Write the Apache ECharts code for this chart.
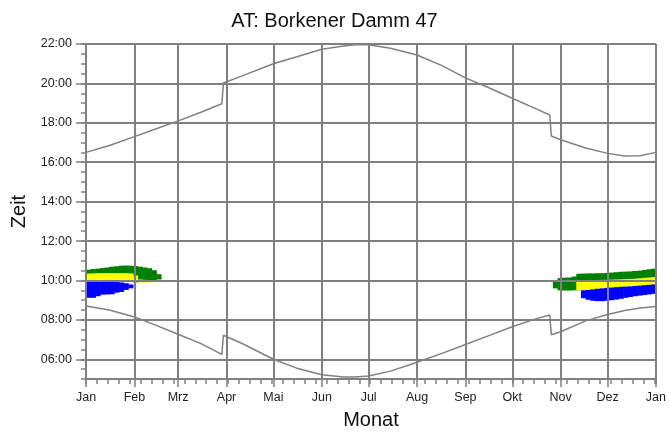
<!DOCTYPE html>
<html>
<head>
<meta charset="utf-8">
<script src="https://cdn.jsdelivr.net/npm/echarts@6/dist/echarts.min.js"></script>
<style>
  html, body { margin: 0; padding: 0; background: #fff; }
  #chart { width: 669px; height: 435px; }
</style>
</head>
<body>
<div id="chart"></div>
<script>
// x = day of year, y = hour of day
const monthStarts = [0, 31, 59, 90, 120, 151, 181, 212, 243, 273, 304, 334, 365];
const monthLabels = ["Jan", "Feb", "Mrz", "Apr", "Mai", "Jun", "Jul", "Aug", "Sep", "Okt", "Nov", "Dez", "Jan"];
const hourTicks = [6, 8, 10, 12, 14, 16, 18, 20, 22];

const sunDays = [0, 15, 31, 45, 59, 74, 87, 88, 100, 120, 135, 151, 165, 172, 181, 195, 212, 228, 243, 258, 273, 288, 297, 298, 304, 320, 334, 345, 355, 365];
const sunrise = [8.70, 8.50, 8.15, 7.72, 7.27, 6.78, 6.25, 7.22, 6.80, 6.00, 5.55, 5.22, 5.10, 5.10, 5.15, 5.40, 5.85, 6.30, 6.75, 7.20, 7.65, 8.05, 8.25, 7.25, 7.40, 7.95, 8.27, 8.48, 8.60, 8.68];
const sunset = [16.50, 16.85, 17.30, 17.70, 18.10, 18.55, 18.97, 20.02, 20.38, 21.00, 21.35, 21.73, 21.90, 21.96, 21.96, 21.78, 21.44, 20.90, 20.28, 19.78, 19.25, 18.72, 18.40, 17.33, 17.14, 16.72, 16.45, 16.32, 16.33, 16.50];

// [day, from hour, to hour]
const greenShadow = [
  [0, 10.0, 10.55], [3, 10.0, 10.58], [6, 10.0, 10.60], [9, 10.0, 10.63], [12, 10.0, 10.66],
  [15, 10.0, 10.70], [18, 10.0, 10.72], [21, 10.0, 10.75], [24, 10.0, 10.76], [27, 9.95, 10.75],
  [30, 9.90, 10.73], [33, 9.92, 10.70], [36, 9.95, 10.66], [39, 9.97, 10.62], [42, 10.0, 10.52],
  [45, 10.05, 10.32],
  [299, 9.60, 9.97], [302, 9.50, 10.12], [305, 9.49, 10.14], [308, 9.49, 10.15], [311, 9.50, 10.20],
  [314, 9.50, 10.34], [317, 9.50, 10.35], [320, 9.90, 10.36], [323, 9.90, 10.36], [326, 9.90, 10.37],
  [329, 9.90, 10.37], [332, 9.90, 10.38], [335, 9.90, 10.40], [338, 9.90, 10.42], [341, 9.90, 10.44],
  [344, 9.90, 10.45], [347, 9.90, 10.46], [350, 9.90, 10.48], [353, 9.90, 10.50], [356, 9.90, 10.53],
  [359, 9.90, 10.57], [362, 9.90, 10.60]
];
const yellowShadow = [
  [0, 9.95, 10.35], [3, 9.95, 10.36], [6, 9.95, 10.37], [9, 9.95, 10.37], [12, 9.95, 10.37],
  [15, 9.95, 10.37], [18, 9.95, 10.37], [21, 9.95, 10.37], [24, 9.95, 10.37], [27, 9.94, 10.36],
  [30, 9.92, 10.25], [33, 9.90, 10.05], [36, 9.90, 10.03], [39, 9.90, 10.0],
  [314, 9.50, 9.95], [317, 9.50, 10.0], [320, 9.52, 10.01], [323, 9.55, 10.02], [326, 9.58, 10.02],
  [329, 9.60, 10.03], [332, 9.62, 10.03], [335, 9.64, 10.04], [338, 9.66, 10.05], [341, 9.68, 10.06],
  [344, 9.69, 10.07], [347, 9.70, 10.08], [350, 9.72, 10.09], [353, 9.74, 10.11], [356, 9.76, 10.13],
  [359, 9.78, 10.15], [362, 9.80, 10.17]
];
const blueShadow = [
  [0, 9.12, 9.93], [3, 9.12, 9.93], [6, 9.20, 9.93], [9, 9.28, 9.93], [12, 9.29, 9.93],
  [15, 9.30, 9.93], [18, 9.38, 9.92], [21, 9.42, 9.90], [24, 9.52, 9.86], [27, 9.60, 9.80],
  [317, 9.10, 9.50], [320, 9.02, 9.52], [323, 8.97, 9.55], [326, 8.95, 9.58], [329, 8.95, 9.60],
  [332, 8.97, 9.62], [335, 9.00, 9.64], [338, 9.03, 9.66], [341, 9.07, 9.68], [344, 9.12, 9.69],
  [347, 9.16, 9.70], [350, 9.20, 9.72], [353, 9.23, 9.74], [356, 9.26, 9.76], [359, 9.29, 9.78],
  [362, 9.32, 9.80]
];

const dayStep = 3;
const gray = "#808080";
const font = "Liberation Sans, Arial, sans-serif";

function hhmm(v) {
  return (v < 10 ? "0" : "") + v + ":00";
}

function bandSeries(name, data, color) {
  return {
    name: name,
    type: "custom",
    data: data,
    z: 1,
    clip: true,
    encode: { x: 0, y: [1, 2] },
    renderItem(params, api) {
      const a = api.coord([api.value(0), api.value(2)]);
      const b = api.coord([api.value(0) + dayStep, api.value(1)]);
      return {
        type: "rect",
        shape: { x: a[0], y: a[1], width: b[0] - a[0] + 0.6, height: b[1] - a[1] },
        style: { fill: color },
      };
    },
  };
}

function sunSeries(name, values) {
  return {
    name: name,
    type: "line",
    data: sunDays.map((d, i) => [d, values[i]]),
    symbol: "none",
    z: 2,
    lineStyle: { color: gray, width: 1.5 },
  };
}

const chart = echarts.init(document.getElementById("chart"));
chart.setOption({
  animation: false,
  title: {
    text: "AT: Borkener Damm 47",
    left: "center",
    top: 6,
    textStyle: { fontFamily: font, fontSize: 20, fontWeight: "normal", color: "#111" },
  },
  grid: { left: 86, right: 12, top: 44, bottom: 55 },
  xAxis: [
    {
      type: "value",
      min: 0,
      max: 365,
      z: 5,
      name: "Monat",
      nameLocation: "middle",
      nameGap: 31,
      nameTextStyle: { fontFamily: font, fontSize: 20, color: "#111" },
      axisLine: { lineStyle: { color: gray, width: 2 } },
      axisTick: { length: 8, customValues: monthStarts, lineStyle: { color: gray, width: 1.5 } },
      axisLabel: {
        customValues: monthStarts,
        margin: 12,
        fontFamily: font,
        fontSize: 12.5,
        color: "#222",
        formatter: (v) => monthLabels[monthStarts.indexOf(v)],
      },
      splitLine: { show: true, lineStyle: { color: gray, width: 2 } },
    },
    {
      type: "value",
      min: 0,
      max: 365,
      interval: 7,
      position: "bottom",
      axisLine: { show: false },
      axisTick: { length: 5, lineStyle: { color: gray, width: 1.5 } },
      axisLabel: { show: false },
      splitLine: { show: false },
    },
  ],
  yAxis: [
    {
      type: "value",
      min: 5,
      max: 22,
      z: 5,
      name: "Zeit",
      nameLocation: "middle",
      nameGap: 57,
      nameTextStyle: { fontFamily: font, fontSize: 20, color: "#111" },
      axisLine: { show: true, lineStyle: { color: gray, width: 2 } },
      axisTick: { show: true, length: 10, customValues: hourTicks, lineStyle: { color: gray, width: 1.5 } },
      axisLabel: {
        customValues: hourTicks,
        margin: 14,
        fontFamily: font,
        fontSize: 12.5,
        color: "#222",
        formatter: hhmm,
      },
      splitLine: { show: true, lineStyle: { color: gray, width: 2 } },
    },
    {
      type: "value",
      min: 5,
      max: 22,
      interval: 0.5,
      position: "left",
      axisLine: { show: false },
      axisTick: { show: true, length: 5, lineStyle: { color: gray, width: 1.5 } },
      axisLabel: { show: false },
      splitLine: { show: false },
    },
  ],
  series: [
    bandSeries("green", greenShadow, "#008000"),
    bandSeries("yellow", yellowShadow, "#ffff00"),
    bandSeries("blue", blueShadow, "#0000ff"),
    sunSeries("Sonnenaufgang", sunrise),
    sunSeries("Sonnenuntergang", sunset),
  ],
});
</script>
</body>
</html>
